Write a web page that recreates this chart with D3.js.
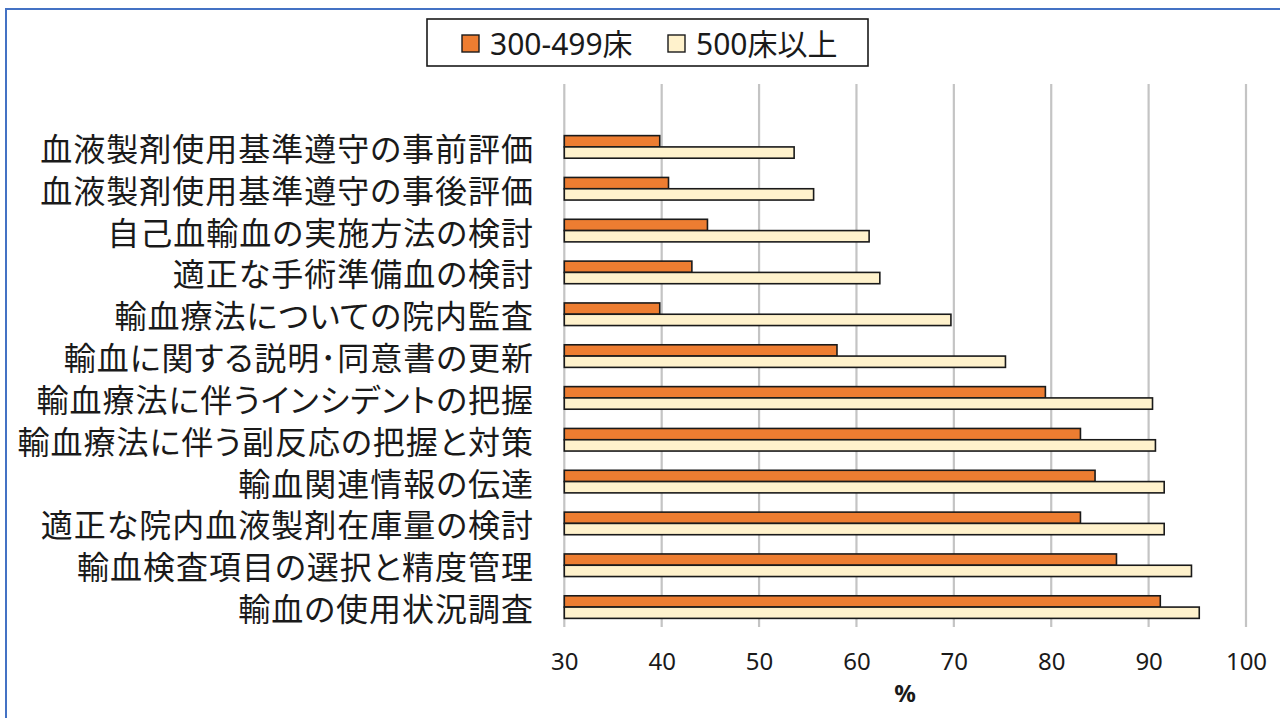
<!DOCTYPE html>
<html><head><meta charset="utf-8">
<script src="https://cdn.jsdelivr.net/npm/d3@7"></script>
<style>
html,body{margin:0;padding:0;background:#fff;}
svg{display:block;}
</style></head>
<body>
<svg id="c" width="1280" height="718"></svg>
<script>
const categories = [
  "血液製剤使用基準遵守の事前評価",
  "血液製剤使用基準遵守の事後評価",
  "自己血輸血の実施方法の検討",
  "適正な手術準備血の検討",
  "輸血療法についての院内監査",
  "輸血に関する説明･同意書の更新",
  "輸血療法に伴うインシデントの把握",
  "輸血療法に伴う副反応の把握と対策",
  "輸血関連情報の伝達",
  "適正な院内血液製剤在庫量の検討",
  "輸血検査項目の選択と精度管理",
  "輸血の使用状況調査"
];
const seriesNames = ["300-499床", "500床以上"];
const values300 = [39.8, 40.7, 44.7, 43.1, 39.8, 58.0, 79.4, 83.0, 84.5, 83.0, 86.7, 91.2];
const values500 = [53.6, 55.6, 61.3, 62.4, 69.7, 75.3, 90.4, 90.7, 91.6, 91.6, 94.4, 95.2];
const xTicks = [30, 40, 50, 60, 70, 80, 90, 100];
const colors = ["#ED7D31", "#FFF2CC"];
const axisTitle = "%";

const svg = d3.select("#c");
const jp = "'Noto Sans CJK JP', 'Noto Sans', sans-serif";

// outer frame
svg.append("rect").attr("x", 6).attr("y", 9).attr("width", 1290).attr("height", 730)
  .attr("fill", "none").attr("stroke", "#4472C4").attr("stroke-width", 2);

const x = d3.scaleLinear().domain([30, 100]).range([564.3, 1246]);
const y = d3.scaleBand().domain(categories).range([126, 628]).paddingInner(0.46).paddingOuter(0.23);
const ySub = d3.scaleBand().domain(seriesNames).range([0, y.bandwidth()]);

// gridlines
svg.append("g").selectAll("line").data(xTicks).join("line")
  .attr("x1", d => x(d)).attr("x2", d => x(d))
  .attr("y1", 84).attr("y2", 627)
  .attr("stroke", "#C4C4C4").attr("stroke-width", 2.2);

// bars
const data = categories.map((c, i) => ({c, vals: [values300[i], values500[i]]}));
const g = svg.append("g");
data.forEach(d => {
  d.vals.forEach((v, j) => {
    g.append("rect")
      .attr("x", x(30))
      .attr("y", y(d.c) + ySub(seriesNames[j]))
      .attr("width", x(v) - x(30))
      .attr("height", ySub.bandwidth())
      .attr("fill", colors[j])
      .attr("stroke", "#1a1a1a").attr("stroke-width", 1.6);
  });
});

// category labels
svg.append("g").selectAll("text").data(categories).join("text")
  .attr("x", 534).attr("y", d => y(d) + y.bandwidth() / 2)
  .attr("text-anchor", "end").attr("dominant-baseline", "central")
  .style("font-family", jp).style("font-size", "32px")
  .style("letter-spacing", "1px")
  .style("font-feature-settings", "'palt'")
  .attr("fill", "#1a1a1a")
  .text(d => d);

// x axis tick labels
const xAxis = d3.axisBottom(x).tickValues(xTicks).tickSize(0).tickPadding(0);
const ax = svg.append("g").attr("transform", "translate(0,670)").call(xAxis);
ax.select(".domain").remove();
ax.selectAll("text").attr("y", 0).attr("dy", 0)
  .style("font-family", "'Noto Sans', sans-serif").style("font-size", "24px").attr("fill", "#1a1a1a");

// axis title
svg.append("text").attr("x", 905).attr("y", 702).attr("text-anchor", "middle")
  .style("font-family", "'Noto Sans', sans-serif").style("font-size", "24px").style("font-weight", "bold")
  .attr("fill", "#1a1a1a").text(axisTitle);

// legend
const lg = svg.append("g");
lg.append("rect").attr("x", 427).attr("y", 19).attr("width", 441).attr("height", 47)
  .attr("fill", "#fff").attr("stroke", "#1a1a1a").attr("stroke-width", 1.6);
const legX = [462, 668];
seriesNames.forEach((s, j) => {
  lg.append("rect").attr("x", legX[j]).attr("y", 35).attr("width", 17).attr("height", 17)
    .attr("fill", colors[j]).attr("stroke", "#1a1a1a").attr("stroke-width", 1.4);
  lg.append("text").attr("x", legX[j] + 28).attr("y", 43).attr("dominant-baseline", "central")
    .style("font-family", "'Noto Sans', 'Noto Sans CJK JP', sans-serif").style("font-size", "30px")
    .attr("fill", "#1a1a1a").text(s);
});
</script>
</body></html>
